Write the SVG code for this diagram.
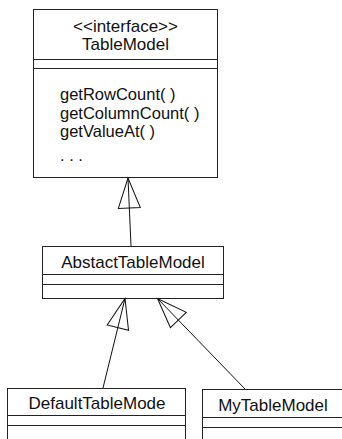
<svg xmlns="http://www.w3.org/2000/svg" width="342" height="439" viewBox="0 0 342 439">
<style>
.box{fill:#fff;stroke:#222;stroke-width:1}
.sep{stroke:#222;stroke-width:1}
.t{font-family:"Liberation Sans",Arial,sans-serif;font-size:17px;fill:#111}
.m{font-size:16.5px}
.c{text-anchor:middle}
.conn{stroke:#111;stroke-width:1;fill:none}
</style>
<defs>
<marker id="gen" markerUnits="userSpaceOnUse" viewBox="-32 -13 34 26" refX="0" refY="0" markerWidth="34" markerHeight="26" orient="auto">
<path d="M-30,-11 L0,0 L-30,11 Z" fill="none" stroke="#111" stroke-width="1"/>
</marker>
</defs>
<rect width="342" height="439" fill="#fff"/>
<g id="TableModel">
<rect class="box" x="33.5" y="9.5" width="184" height="168"/>
<line class="sep" x1="33.5" y1="59.5" x2="217.5" y2="59.5"/>
<line class="sep" x1="33.5" y1="68.5" x2="217.5" y2="68.5"/>
<text class="t c" x="125.5" y="32">&lt;&lt;interface&gt;&gt;</text>
<text class="t c" x="125.5" y="50">TableModel</text>
<text class="t m" x="60" y="100">getRowCount( )</text>
<text class="t m" x="60" y="118.5">getColumnCount( )</text>
<text class="t m" x="60" y="137">getValueAt( )</text>
<text class="t m" x="60" y="161">. . .</text>
</g>
<g id="AbstactTableModel">
<rect class="box" x="42.5" y="246.5" width="181" height="52"/>
<line class="sep" x1="42.5" y1="274.5" x2="223.5" y2="274.5"/>
<line class="sep" x1="42.5" y1="284.5" x2="223.5" y2="284.5"/>
<text class="t c" x="133" y="268">AbstactTableModel</text>
</g>
<g id="DefaultTableMode">
<rect class="box" x="7.5" y="388.5" width="178" height="60"/>
<line class="sep" x1="7.5" y1="415.5" x2="185.5" y2="415.5"/>
<line class="sep" x1="7.5" y1="425.5" x2="185.5" y2="425.5"/>
<text class="t c" x="97" y="409">DefaultTableMode</text>
</g>
<g id="MyTableModel">
<rect class="box" x="202.5" y="389.5" width="142" height="60"/>
<line class="sep" x1="202.5" y1="417.5" x2="344.5" y2="417.5"/>
<line class="sep" x1="202.5" y1="427.5" x2="344.5" y2="427.5"/>
<text class="t c" x="273" y="411">MyTableModel</text>
</g>
<g id="connectors">
<line class="conn" x1="131" y1="246" x2="128" y2="178" marker-end="url(#gen)"/>
<line class="conn" x1="103" y1="388" x2="125" y2="298.5" marker-end="url(#gen)"/>
<line class="conn" x1="245" y1="389" x2="157.5" y2="298.5" marker-end="url(#gen)"/>
</g>
</svg>
